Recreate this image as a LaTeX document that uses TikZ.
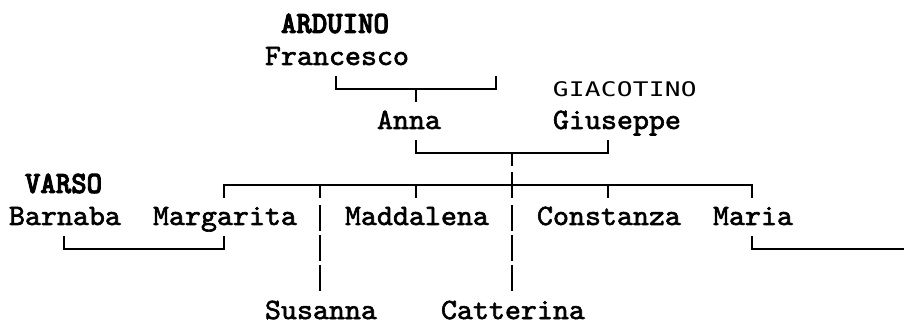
\documentclass[tikz,border=0pt]{standalone}
\usepackage{fontspec}
\usepackage{tikz}
\newfontfamily\namefont[FakeStretch=1.032,FakeBold=2]{lmmono10-regular.otf}
\newfontfamily\surnamefont[FakeStretch=0.95,FakeBold=3]{lmmonolt10-bold.otf}
\newfontfamily\giacfont[FakeStretch=1.3,LetterSpace=1.3]{DejaVu Sans Mono}

\begin{document}
\begin{tikzpicture}[x=0.4cm, y=-0.8cm, line width=1.4pt,
	person/.style={anchor=base west, inner sep=0pt, font=\namefont\fontsize{21}{24}\selectfont},
	family/.style={anchor=base west, inner sep=0pt, font=\surnamefont\fontsize{22}{24}\selectfont},
	familysans/.style={anchor=base west, inner sep=0pt, font=\giacfont\fontsize{14.3}{16}\selectfont},
	pipe/.style={dash pattern=on 0.656cm off 0.096cm}]
	\useasboundingbox (0,-0.78) rectangle (56.75,9.28);
	
	% names
	\node[family] (ardu) at (17.5,0.25) {ARDUINO};
	\node[person] (fran) at (16.5,1.25) {Francesco};
	\node[familysans] (giac) at (34.5,2.25) {GIACOTINO};
	\node[person] (anna) at (23.5,3.25) {Anna};
	\node[person] (gius) at (34.5,3.25) {Giuseppe};
	\node[family] (vars) at (1.5,5.25) {VARSO};
	\node[person] (barn) at (0.5,6.25) {Barnaba};
	\node[person] (marg) at (9.5,6.25) {Margarita};
	\node[person] (madd) at (21.5,6.25) {Maddalena};
	\node[person] (cons) at (33.5,6.25) {Constanza};
	\node[person] (mari) at (44.5,6.25) {Maria};
	\node[person] (susa) at (16.5,9.19) {Susanna};
	\node[person] (catt) at (27.5,9.19) {Catterina};
	
	% Francesco -- Anna
	\coordinate (franl) at (21,2);
	\coordinate (franr) at (31,2);
	\coordinate (franc) at (26,2);
	\draw (franl) ++(0,-0.4) -- (franl) -- (franr) -- ++(0,-0.4);
	\draw (franc) -- ++(0,0.4);
	
	% Anna -- Giuseppe
	\coordinate (annal) at (26,4);
	\coordinate (annar) at (38,4);
	\coordinate (annac) at (32,4);
	\draw (annal) ++(0,-0.4) -- (annal) -- (annar) -- ++(0,-0.4);
	\draw (annac) -- ++(0,0.4);
	
	% children
	\coordinate (kidl) at (14,5);
	\coordinate (kidr) at (47,5);
	\draw (kidl) ++(0,0.4) -- (kidl) -- (kidr) -- ++(0,0.4);
	\foreach \x in {20,26,38}
		\draw (\x,5) -- ++(0,0.4);
	\draw (32,4.6) -- (32,5.4);
	\draw[pipe] (20,5.62) -- (20,8.32);
	\draw[pipe] (32,5.62) -- (32,8.32);
	
	% Barnaba -- Margarita
	\coordinate (barnl) at (4,7);
	\coordinate (barnr) at (14,7);
	\draw (barnl) ++(0,-0.4) -- (barnl) -- (barnr) -- ++(0,-0.4);
	
	% Maria
	\coordinate (maril) at (47,7);
	\coordinate (marir) at (56.5,7);
	\draw (maril) ++(0,-0.4) -- (maril) -- (marir);
\end{tikzpicture}
\end{document}
